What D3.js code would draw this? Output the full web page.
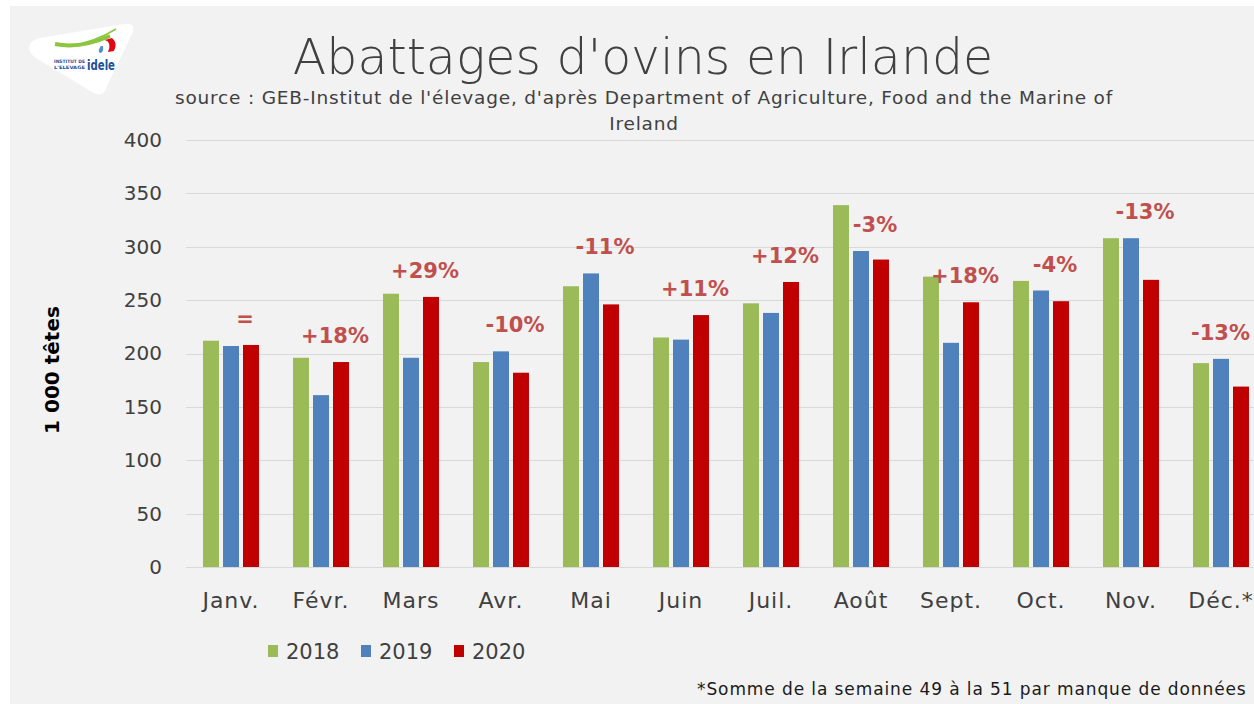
<!DOCTYPE html>
<html>
<head>
<meta charset="utf-8">
<script src="https://cdn.jsdelivr.net/npm/d3@7"></script>
<style>
  html, body { margin: 0; padding: 0; background: #fff; }
  svg { display: block; font-family: "DejaVu Sans", sans-serif; }
</style>
</head>
<body>
<script>
// donnees (milliers de tetes)
var months = ["Janv.", "Févr.", "Mars", "Avr.", "Mai", "Juin", "Juil.", "Août", "Sept.", "Oct.", "Nov.", "Déc.*"];
var years = ["2018", "2019", "2020"];
var v2018 = [212, 196, 256, 192, 263, 215, 247, 339, 272, 268, 308, 191];
var v2019 = [207, 161, 196, 202, 275, 213, 238, 296, 210, 259, 308, 195];
var v2020 = [208, 192, 253, 182, 246, 236, 267, 288, 248, 249, 269, 169];
var evolution = ["=", "+18%", "+29%", "-10%", "-11%", "+11%", "+12%", "-3%", "+18%", "-4%", "-13%", "-13%"];
var yTicks = [0, 50, 100, 150, 200, 250, 300, 350, 400];
var colors = ["#9bbb59", "#4f81bd", "#c00000"];

var W = 1254, H = 704;
var series = [v2018, v2019, v2020];

var svg = d3.select("body").append("svg")
    .attr("width", W).attr("height", H);

// fond
svg.append("rect").attr("width", W).attr("height", H).attr("fill", "#ffffff");
svg.append("rect").attr("x", 10).attr("y", 6).attr("width", W - 10).attr("height", H - 6).attr("fill", "#f2f2f2");

// logo idele (simplifie)
var logo = svg.append("g");
logo.append("path")
    .attr("d", "M30,44 Q27,52 36,58 L92,92 Q104,99 107,86 L132,34 Q137,22 124,24 L40,38 Q32,40 30,44 Z")
    .attr("fill", "#ffffff");
logo.append("path").attr("d", "M55,44 Q80,49 110,36").attr("stroke", "#8cc63f").attr("stroke-width", 4).attr("fill", "none");
logo.append("path").attr("d", "M70,46 Q95,42 116,29").attr("stroke", "#8cc63f").attr("stroke-width", 1.5).attr("fill", "none");
logo.append("path").attr("d", "M105,40 Q112,42 108,52 L114,51 Q118,43 112,38 Z").attr("fill", "#e30613");
logo.append("path").attr("d", "M101,46 Q97,51 100,53 Q104,53 103,46 Z").attr("fill", "#4f8fd0");
logo.append("text").attr("x", 54).attr("y", 63).attr("font-size", 4.6).attr("font-weight", "bold")
    .attr("textLength", 31).attr("lengthAdjust", "spacingAndGlyphs").attr("fill", "#1c4f9c").text("INSTITUT DE");
logo.append("text").attr("x", 54).attr("y", 68.5).attr("font-size", 4.6).attr("font-weight", "bold")
    .attr("textLength", 31).attr("lengthAdjust", "spacingAndGlyphs").attr("fill", "#1c4f9c").text("L'ELEVAGE");
logo.append("text").attr("x", 87).attr("y", 69.5).attr("font-size", 14).attr("font-weight", "bold")
    .attr("textLength", 28).attr("lengthAdjust", "spacingAndGlyphs").attr("fill", "#1c4f9c").text("idele");

// titres
svg.append("text").attr("x", 643).attr("y", 74).attr("text-anchor", "middle")
    .attr("font-size", 49).attr("font-weight", 300).attr("fill", "#404040")
    .text("Abattages d'ovins en Irlande");
svg.append("text").attr("x", 644).attr("y", 104).attr("text-anchor", "middle")
    .attr("font-size", 18.5).attr("letter-spacing", 0.8).attr("fill", "#404040")
    .text("source : GEB-Institut de l'élevage, d'après Department of Agriculture, Food and the Marine of");
svg.append("text").attr("x", 644).attr("y", 130).attr("text-anchor", "middle")
    .attr("font-size", 18.5).attr("letter-spacing", 0.8).attr("fill", "#404040")
    .text("Ireland");

// echelles
var x = d3.scaleBand().domain(months).range([186, 1266]).paddingInner(0.378).paddingOuter(0.189);
var xs = d3.scaleBand().domain(years).range([0, x.bandwidth()]).paddingInner(0.2);
var y = d3.scaleLinear().domain([0, 400]).range([567, 140]);

// grille
svg.append("g").selectAll("line").data(yTicks).enter().append("line")
    .attr("x1", 186).attr("x2", W)
    .attr("y1", function (d) { return Math.round(y(d)) + 0.5; })
    .attr("y2", function (d) { return Math.round(y(d)) + 0.5; })
    .attr("stroke", "#d9d9d9").attr("stroke-width", 1);

// axe Y
var yAxis = svg.append("g").attr("transform", "translate(172,0)")
    .call(d3.axisLeft(y).tickValues(yTicks).tickSize(0).tickPadding(10));
yAxis.select(".domain").remove();
yAxis.selectAll("text").attr("font-size", 20).attr("fill", "#404040")
    .attr("font-family", "DejaVu Sans");

svg.append("text")
    .attr("transform", "translate(59,370) rotate(-90)")
    .attr("text-anchor", "middle").attr("font-size", 20).attr("font-weight", "bold").attr("fill", "#000")
    .text("1 000 têtes");

// axe X
var xAxis = svg.append("g").attr("transform", "translate(0,576)")
    .call(d3.axisBottom(x).tickSize(0).tickPadding(16));
xAxis.select(".domain").remove();
xAxis.selectAll("text").attr("font-size", 22).attr("letter-spacing", 1).attr("fill", "#404040")
    .attr("font-family", "DejaVu Sans");

// barres
var groups = svg.append("g").selectAll("g.mois").data(months).enter().append("g")
    .attr("class", "mois")
    .attr("transform", function (d) { return "translate(" + x(d) + ",0)"; });

groups.selectAll("rect").data(function (d, i) {
        return years.map(function (yr, k) { return { year: yr, k: k, val: series[k][i] }; });
    }).enter().append("rect")
    .attr("x", function (d) { return xs(d.year); })
    .attr("y", function (d) { return y(d.val); })
    .attr("width", xs.bandwidth())
    .attr("height", function (d) { return y(0) - y(d.val); })
    .attr("fill", function (d) { return colors[d.k]; });

// evolutions 2020 / 2019
var evo = groups.append("text")
    .attr("x", x.bandwidth() / 2 + 14)
    .attr("y", function (d, i) { return y(Math.max(v2019[i], v2020[i])) - 19; })
    .attr("text-anchor", "middle")
    .attr("font-size", 21).attr("font-weight", "bold").attr("fill", "#c0504d")
    .text(function (d, i) { return evolution[i]; });
// ne pas deborder a droite
evo.each(function (d) {
    var t = d3.select(this);
    var half = this.getComputedTextLength() / 2;
    var cx = x(d) + x.bandwidth() / 2 + 14;
    if (cx + half > W - 4) t.attr("x", W - 4 - half - x(d));
});

// legende
var leg = svg.append("g").attr("transform", "translate(268,645)");
var legItems = leg.selectAll("g").data(years).enter().append("g")
    .attr("transform", function (d, i) { return "translate(" + (i * 93) + ",0)"; });
legItems.append("rect").attr("width", 10).attr("height", 12)
    .attr("fill", function (d, i) { return colors[i]; });
legItems.append("text").attr("x", 18).attr("y", 14)
    .attr("font-size", 21).attr("fill", "#404040")
    .text(function (d) { return d; });

// note
svg.append("text").attr("x", 697).attr("y", 695)
    .attr("font-size", 17).attr("letter-spacing", 0.9).attr("fill", "#1a1a1a")
    .text("*Somme de la semaine 49 à la 51 par manque de données");
</script>
</body>
</html>
